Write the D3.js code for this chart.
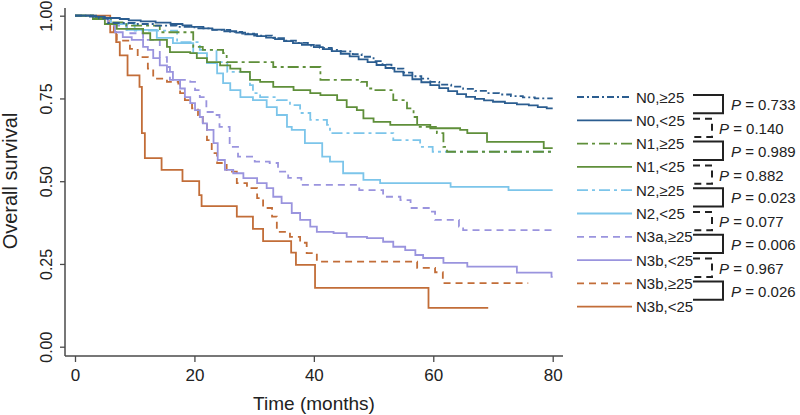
<!DOCTYPE html>
<html>
<head>
<meta charset="utf-8">
<script src="https://cdn.jsdelivr.net/npm/d3@7"></script>
<style>
  body { margin: 0; background: #fff; }
  svg { display: block; font-family: "Liberation Sans", Arial, Helvetica, sans-serif; }
</style>
</head>
<body>
<svg id="chart" width="800" height="415"></svg>
<script>
// Kaplan-Meier steps: [month, survival]
const n0Ge25 = [[0,1],[4,0.992],[5.5,0.978],[10,0.975],[13.5,0.97],[17,0.966],[20,0.962],[23,0.957],[26,0.951],[28,0.946],[30,0.94],[33,0.932],[35,0.925],[37,0.918],[39,0.91],[41,0.903],[43,0.897],[44.5,0.892],[46.5,0.884],[48,0.876],[50,0.863],[51.5,0.852],[53,0.84],[55,0.828],[56.5,0.817],[58,0.81],[59.5,0.8],[61,0.792],[63,0.786],[65,0.779],[67,0.773],[69,0.766],[71,0.762],[73,0.757],[75,0.753],[77,0.75],[80,0.75]];
const n0Lt25 = [[0,1],[2.5,0.997],[5,0.993],[7.5,0.99],[9,0.986],[11,0.983],[13.5,0.979],[16,0.975],[18,0.971],[19.5,0.966],[21.5,0.962],[23,0.958],[25,0.953],[27,0.949],[28.5,0.944],[30.5,0.938],[32,0.934],[33.5,0.929],[35,0.923],[36.5,0.917],[38,0.912],[40,0.905],[41.5,0.899],[43,0.893],[44.5,0.885],[46,0.877],[47.5,0.868],[49,0.86],[50.5,0.851],[52,0.842],[53.5,0.831],[55,0.82],[56.5,0.808],[58,0.799],[59.5,0.79],[61,0.781],[62.5,0.772],[64,0.763],[65.5,0.755],[67,0.749],[68.5,0.744],[70,0.74],[72,0.736],[74,0.732],[76,0.729],[77.5,0.724],[79,0.72],[80,0.72]];
const n1Ge25 = [[0,1],[3,0.993],[6,0.98],[8.6,0.97],[14.2,0.95],[19.8,0.906],[21.4,0.897],[24.8,0.887],[25.4,0.86],[33.2,0.845],[41.1,0.806],[47.9,0.8],[48.9,0.78],[50,0.775],[53.3,0.745],[55.6,0.72],[56.7,0.694],[57.3,0.664],[60.6,0.645],[61.7,0.604],[62.3,0.589],[80,0.589]];
const n1Lt25 = [[0,1],[3,0.99],[5,0.975],[7,0.96],[11.4,0.947],[12.6,0.927],[15.4,0.906],[15.9,0.89],[19.3,0.887],[20.4,0.872],[22.1,0.86],[24.3,0.85],[26,0.84],[27.7,0.83],[29.3,0.806],[31,0.8],[33.2,0.785],[36.6,0.775],[39.4,0.766],[41.1,0.76],[43.9,0.745],[45.5,0.724],[47.2,0.715],[48.3,0.69],[50,0.679],[52.8,0.67],[59.5,0.66],[64.5,0.655],[65.7,0.645],[69,0.619],[78.5,0.6],[80,0.6]];
const n2Ge25 = [[0,1],[3,0.99],[6,0.975],[10,0.955],[17.1,0.92],[20.9,0.897],[23.7,0.86],[25.5,0.83],[29.3,0.79],[29.8,0.766],[31,0.754],[33.8,0.745],[36,0.73],[37.7,0.706],[39.4,0.685],[42.2,0.67],[42.7,0.645],[53.3,0.624],[57.8,0.604],[59.9,0.589],[80,0.589]];
const n2Lt25 = [[0,1],[3,0.993],[6,0.975],[8.6,0.957],[13.7,0.933],[16.4,0.917],[19.8,0.887],[22.1,0.857],[23.8,0.826],[24.8,0.796],[26,0.775],[27.7,0.754],[29.8,0.745],[32.1,0.724],[33.8,0.7],[35.5,0.664],[36.3,0.655],[38.5,0.615],[41.4,0.574],[42.7,0.559],[44.9,0.524],[48.3,0.504],[51.1,0.494],[62.9,0.483],[72.6,0.473],[80,0.473]];
const n3aGe25 = [[0,1],[3,0.99],[6,0.97],[8.7,0.947],[11.4,0.927],[14.2,0.875],[15.4,0.845],[15.9,0.806],[19.3,0.8],[20.1,0.775],[20.9,0.754],[22,0.709],[23.3,0.7],[24.2,0.664],[25.9,0.604],[27.3,0.574],[30.1,0.559],[32.6,0.555],[34,0.529],[35.7,0.51],[37.9,0.489],[47.6,0.473],[51.6,0.453],[54.5,0.443],[56.2,0.419],[59.5,0.408],[60.3,0.383],[64.3,0.363],[65,0.352],[80,0.352]];
const n3bLt25a = [[0,1],[3,0.99],[5.5,0.975],[6.7,0.95],[8,0.935],[9.5,0.927],[11.4,0.906],[12.2,0.897],[13.1,0.872],[14.2,0.85],[15.4,0.83],[16.4,0.806],[17.6,0.78],[18.4,0.754],[19.3,0.736],[20.1,0.715],[20.9,0.694],[21.4,0.675],[22.1,0.655],[23.2,0.615],[23.9,0.564],[25.1,0.534],[26.5,0.524],[28.2,0.509],[30.5,0.494],[32.1,0.479],[33.2,0.453],[34.6,0.434],[36.3,0.404],[37.7,0.383],[39.4,0.363],[40.5,0.347],[43.3,0.343],[45.5,0.332],[48.9,0.328],[51.6,0.317],[53.3,0.302],[55.3,0.292],[57,0.277],[58.3,0.268],[61.7,0.253],[65.7,0.242],[74,0.224],[79.8,0.211],[80,0.211]];
const n3bGe25 = [[0,1],[3.5,0.99],[5.5,0.975],[6.5,0.95],[7,0.925],[9.2,0.9],[10.5,0.875],[12.2,0.84],[13.1,0.81],[15.4,0.8],[17.3,0.795],[17.6,0.766],[18.4,0.745],[19.6,0.72],[20.6,0.7],[21.4,0.675],[22.1,0.624],[22.9,0.585],[23.8,0.555],[25.4,0.529],[27.1,0.494],[28.8,0.479],[30.5,0.449],[31.5,0.419],[33,0.393],[33.8,0.347],[36,0.332],[37.7,0.314],[38.8,0.283],[40.5,0.257],[57.3,0.238],[60.3,0.225],[61.6,0.192],[75.9,0.192]];
const n3bLt25b = [[0,1],[5.9,0.95],[6.9,0.92],[7.5,0.88],[8.8,0.82],[10.8,0.785],[11.2,0.645],[11.7,0.57],[14.5,0.534],[18,0.5],[20.8,0.458],[21.2,0.425],[27.1,0.393],[29.8,0.356],[31.5,0.319],[36.2,0.284],[37,0.247],[40.2,0.178],[59.2,0.117],[69.2,0.117]];

const seriesData = [n0Ge25, n0Lt25, n1Ge25, n1Lt25, n2Ge25, n2Lt25, n3aGe25, n3bLt25a, n3bGe25, n3bLt25b];
const seriesLabels = ["N0,≥25", "N0,<25", "N1,≥25", "N1,<25", "N2,≥25", "N2,<25", "N3a,≥25", "N3b,<25", "N3b,≥25", "N3b,<25"];
const solidP = ["0.733", "0.989", "0.023", "0.006", "0.026"];
const dashedP = ["0.140", "0.882", "0.077", "0.967"];
const xTicks = [0, 20, 40, 60, 80];
const yTicks = [0, 0.25, 0.5, 0.75, 1];

// styles
const colors = ["#2b5d90", "#2b5d90", "#5f8f3a", "#5f8f3a", "#7cc5ea", "#7cc5ea", "#9a94de", "#9a94de", "#c26d38", "#c26d38"];
const dashes = ["7,3,2,3", null, "11,4,3,4", null, "11,4,3,4", null, "7,5", null, "7,5", null];

const svg = d3.select("#chart");

const x = d3.scaleLinear().domain([0, 80]).range([75, 552.7]);
const y = d3.scaleLinear().domain([0, 1]).range([346.7, 15.7]);

const axisColor = "#4a4a4a";

// axis lines (extend a bit past the data range)
svg.append("line")
  .attr("x1", 65).attr("x2", 65)
  .attr("y1", 8).attr("y2", 356)
  .attr("stroke", axisColor).attr("stroke-width", 1.5);
svg.append("line")
  .attr("x1", 65).attr("x2", 563)
  .attr("y1", 356).attr("y2", 356)
  .attr("stroke", axisColor).attr("stroke-width", 1.5);

const gy = svg.append("g")
  .attr("transform", "translate(65,0)")
  .call(d3.axisLeft(y).tickValues(yTicks).tickFormat(d3.format(".2f")).tickSize(5).tickSizeOuter(0));
gy.select(".domain").remove();
gy.selectAll(".tick line").attr("stroke", axisColor).attr("stroke-width", 1.3);
gy.selectAll(".tick text")
  .attr("transform", "rotate(-90)")
  .attr("x", 0).attr("y", -13).attr("dy", 0)
  .attr("text-anchor", "middle")
  .style("font-size", "16px")
  .style("font-family", "Liberation Sans, Arial, sans-serif")
  .attr("fill", "#222");

const gx = svg.append("g")
  .attr("transform", "translate(0,356)")
  .call(d3.axisBottom(x).tickValues(xTicks).tickSize(6).tickPadding(7).tickSizeOuter(0));
gx.select(".domain").remove();
gx.selectAll(".tick line").attr("stroke", axisColor).attr("stroke-width", 1.3);
gx.selectAll(".tick text")
  .style("font-size", "17px")
  .style("font-family", "Liberation Sans, Arial, sans-serif")
  .attr("fill", "#222");

svg.append("text")
  .attr("x", 314).attr("y", 410)
  .attr("text-anchor", "middle")
  .style("font-size", "19px")
  .attr("fill", "#222")
  .text("Time (months)");

svg.append("text")
  .attr("transform", "translate(17,181) rotate(-90)")
  .attr("text-anchor", "middle")
  .style("font-size", "20px")
  .attr("fill", "#222")
  .text("Overall survival");

// curves
const line = d3.line()
  .x(d => x(d[0]))
  .y(d => y(d[1]))
  .curve(d3.curveStepAfter);

const order = d3.range(seriesData.length).reverse();
svg.append("g").selectAll("path")
  .data(order)
  .join("path")
  .attr("d", i => line(seriesData[i]))
  .attr("fill", "none")
  .attr("stroke", i => colors[i])
  .attr("stroke-width", 1.8)
  .attr("stroke-dasharray", i => dashes[i]);

// legend
const rowY = i => 97 + i * 23.3;
const legend = svg.append("g");
legend.selectAll("line")
  .data(seriesLabels)
  .join("line")
  .attr("x1", 577).attr("x2", 632)
  .attr("y1", (d, i) => rowY(i)).attr("y2", (d, i) => rowY(i))
  .attr("stroke", (d, i) => colors[i])
  .attr("stroke-width", 1.8)
  .attr("stroke-dasharray", (d, i) => dashes[i]);
legend.selectAll("text")
  .data(seriesLabels)
  .join("text")
  .attr("x", 636)
  .attr("y", (d, i) => rowY(i) + 5.5)
  .style("font-size", "15px")
  .attr("fill", "#222")
  .text(d => d);

// brackets with P values
const brk = svg.append("g");
solidP.forEach((p, k) => {
  const top = rowY(2 * k) - 2;
  const bot = rowY(2 * k + 1) - 7;
  brk.append("path")
    .attr("d", `M693,${top}H723V${bot}H693`)
    .attr("fill", "none").attr("stroke", "#222").attr("stroke-width", 2);
  const t = brk.append("text")
    .attr("x", 731).attr("y", (top + bot) / 2 + 6)
    .style("font-size", "15px").attr("fill", "#222");
  t.append("tspan").style("font-style", "italic").text("P");
  t.append("tspan").text(" = " + p);
});
dashedP.forEach((p, k) => {
  const top = rowY(2 * k + 1) - 1.5;
  const bot = rowY(2 * k + 2) - 6.5;
  brk.append("path")
    .attr("d", `M693,${top}H712V${bot}H693`)
    .attr("fill", "none").attr("stroke", "#222").attr("stroke-width", 2)
    .attr("stroke-dasharray", "7,5");
  const t = brk.append("text")
    .attr("x", 719).attr("y", (top + bot) / 2 + 6)
    .style("font-size", "15px").attr("fill", "#222");
  t.append("tspan").style("font-style", "italic").text("P");
  t.append("tspan").text(" = " + p);
});
</script>
</body>
</html>
